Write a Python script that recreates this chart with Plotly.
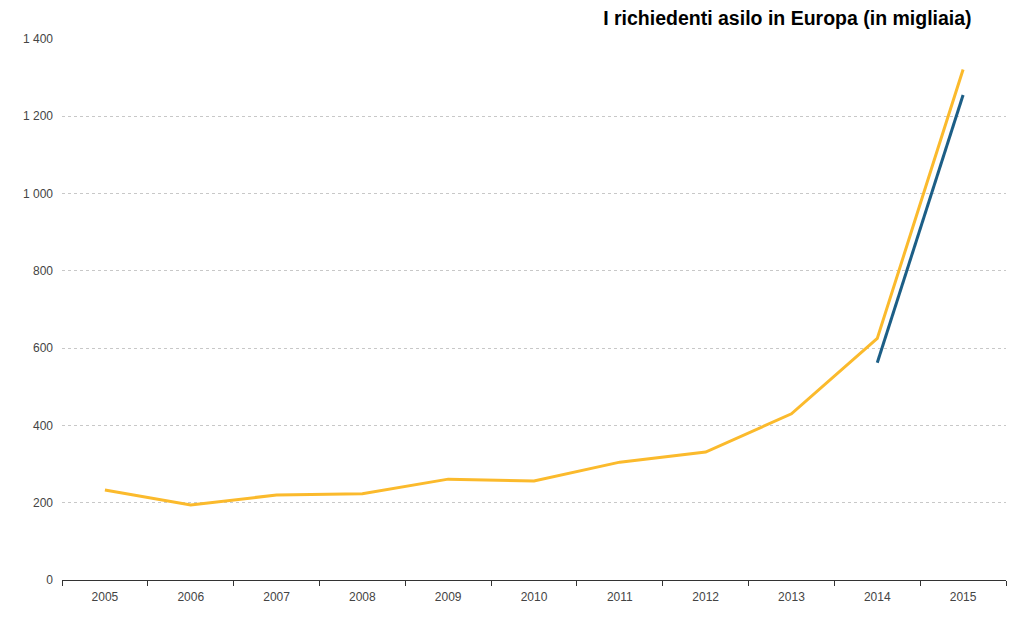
import plotly.graph_objects as go

years = ["2005", "2006", "2007", "2008", "2009", "2010", "2011", "2012", "2013", "2014", "2015"]
total_applicants = [233, 194, 220, 223, 261, 256, 305, 331, 430, 625, 1321]
first_years = ["2014", "2015"]
first_time_applicants = [562, 1255]
y_tick_vals = [0, 200, 400, 600, 800, 1000, 1200, 1400]
y_tick_text = ["0", "200", "400", "600", "800", "1 000", "1 200", "1 400"]

fig = go.Figure()
fig.add_trace(go.Scatter(x=years, y=total_applicants, mode="lines",
                         line=dict(color="#FBBA2C", width=3), hoverinfo="x+y"))
fig.add_trace(go.Scatter(x=first_years, y=first_time_applicants, mode="lines",
                         line=dict(color="#1C5E86", width=3), hoverinfo="x+y"))

fig.update_layout(
    width=1024, height=621,
    margin=dict(l=54, r=26, t=31, b=49),
    paper_bgcolor="white", plot_bgcolor="white",
    showlegend=False,
    font=dict(family="Liberation Sans, Arial, sans-serif", size=12, color="#444444"),
    title=dict(text="<b>I richiedenti asilo in Europa (in migliaia)</b>",
               x=0.941, xanchor="right", xref="container", y=0.983, yanchor="middle",
               font=dict(size=19.5, color="#000000", family="Liberation Sans, Arial, sans-serif")),
)
fig.update_xaxes(type="category", categoryorder="array", categoryarray=years,
                 range=[-0.5, 10.5],
                 showgrid=False, showline=True, linecolor="#333333", linewidth=1,
                 ticks="outside", tickson="boundaries", ticklen=5, tickcolor="#333333",
                 ticklabelstandoff=6,
                 tickfont=dict(size=12, color="#444444"), fixedrange=True)
fig.update_yaxes(range=[0, 1400], tickvals=y_tick_vals, ticktext=y_tick_text,
                 showgrid=True, gridcolor="#C8C8C8", griddash="dot", gridwidth=1,
                 zeroline=False, showline=False, ticks="", ticklabelstandoff=8,
                 tickfont=dict(size=12, color="#444444"), fixedrange=True)

fig.write_html("out.html")
